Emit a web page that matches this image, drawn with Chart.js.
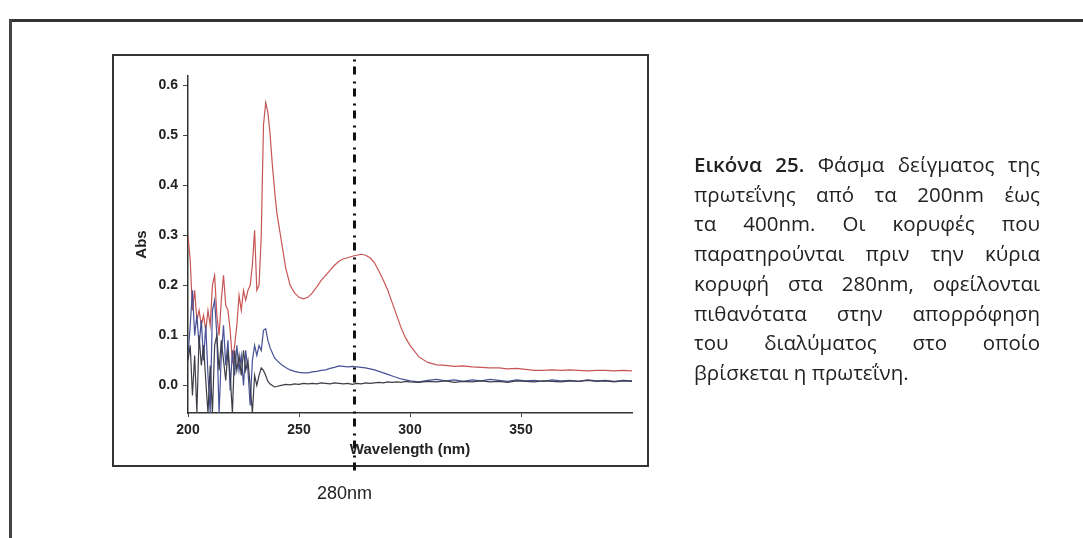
<!DOCTYPE html>
<html>
<head>
<meta charset="utf-8">
<script src="https://cdn.jsdelivr.net/npm/chart.js@4.4.1/dist/chart.umd.min.js"></script>
<style>
  html, body { margin: 0; padding: 0; background: #fff; }
  #wrap { position: relative; width: 1083px; height: 538px; overflow: hidden; }
  #spec { position: absolute; left: 0; top: 0; }
  .frameTop { position: absolute; left: 9px; top: 19px; width: 1074px; height: 3px; background: #333; }
  .frameLeft { position: absolute; left: 9px; top: 19px; width: 3px; height: 519px; background: #444; }
  .box { position: absolute; left: 112px; top: 54px; width: 533px; height: 409px; border: 2px solid #333; }
  .mark { position: absolute; left: 317px; top: 483px; font: 18px "Liberation Sans", sans-serif; color: #222; }
  .caption { position: absolute; left: 694px; top: 150px; width: 346px; font: 20.5px "Open Sans", sans-serif; color: #222; line-height: 29.7px; }
  .caption div { text-align: justify; text-align-last: justify; white-space: nowrap; }
  .caption div.last { text-align-last: left; }
  .caption b { font-weight: 600; }
</style>
</head>
<body>
<div id="wrap">
  <div class="frameTop"></div>
  <div class="frameLeft"></div>
  <div class="box"></div>
  <canvas id="spec" width="1083" height="538"></canvas>
  <div class="mark">280nm</div>
  <div class="caption">
    <div><b>Εικόνα 25.</b> Φάσμα δείγματος της</div>
    <div>πρωτεΐνης από τα 200nm έως</div>
    <div>τα 400nm. Οι κορυφές που</div>
    <div>παρατηρούνται πριν την κύρια</div>
    <div>κορυφή στα 280nm, οφείλονται</div>
    <div>πιθανότατα στην απορρόφηση</div>
    <div>του διαλύματος στο οποίο</div>
    <div class="last">βρίσκεται η πρωτεΐνη.</div>
  </div>
</div>
<script>
// wavelength grid (nm)
const wavelengths = [
  200,201,202,203,204,205,206,207,208,209,210,211,212,213,214,215,216,217,218,219,220,
  221,222,223,224,225,226,227,228,229,230,231,232,233,234,235,236,237,238,239,240,
  242,244,246,248,250,252,254,256,258,260,262,264,266,268,270,272,274,276,278,280,
  282,284,286,288,290,292,294,296,298,300,
  304,308,312,316,320,324,328,332,336,340,344,348,352,356,360,364,368,372,376,380,
  384,388,392,396,400
];

const redAbs = [
  0.30,0.25,0.15,0.19,0.13,0.15,0.12,0.14,0.11,0.15,0.12,0.20,0.22,0.14,0.10,0.17,0.22,0.16,0.15,0.11,0.05,
  0.08,0.12,0.18,0.15,0.19,0.17,0.19,0.20,0.24,0.31,0.19,0.20,0.30,0.52,0.565,0.545,0.50,0.44,0.39,0.345,
  0.29,0.235,0.20,0.185,0.176,0.173,0.176,0.185,0.197,0.21,0.22,0.23,0.24,0.248,0.253,0.255,0.258,0.26,0.262,0.26,
  0.255,0.245,0.228,0.21,0.19,0.165,0.14,0.115,0.095,0.08,
  0.057,0.046,0.041,0.040,0.038,0.039,0.037,0.036,0.035,0.035,0.033,0.034,0.032,0.030,0.030,0.031,0.030,0.031,0.030,0.029,
  0.030,0.030,0.029,0.030,0.029
];

const blueAbs = [
  0.06,0.12,0.19,0.10,0.14,0.08,0.13,0.05,0.12,0.02,-0.055,0.15,0.17,0.10,-0.055,0.06,0.12,0.04,0.09,-0.01,0.07,
  0.02,0.08,0.03,0.06,0.00,0.07,0.03,-0.04,0.05,0.08,0.06,0.08,0.07,0.11,0.113,0.09,0.075,0.065,0.055,0.05,
  0.042,0.036,0.031,0.028,0.026,0.025,0.025,0.027,0.028,0.030,0.031,0.034,0.036,0.039,0.038,0.037,0.038,0.037,0.036,0.035,
  0.033,0.031,0.028,0.025,0.022,0.019,0.016,0.013,0.011,0.009,
  0.007,0.010,0.012,0.009,0.011,0.008,0.011,0.009,0.012,0.010,0.008,0.011,0.009,0.010,0.008,0.011,0.009,0.010,0.008,0.011,
  0.009,0.010,0.008,0.010,0.009
];

const blackAbs = [
  0.05,0.08,-0.02,0.06,-0.055,0.10,0.04,0.08,0.01,-0.055,0.04,-0.055,0.08,0.10,0.03,0.09,0.05,0.01,0.07,0.02,-0.055,
  0.07,0.03,0.06,0.02,0.07,0.03,0.05,0.00,-0.055,0.02,0.00,0.02,0.035,0.03,0.02,0.008,0.003,0.0,-0.003,-0.002,
  0.000,0.002,0.001,0.003,0.002,0.004,0.003,0.004,0.003,0.005,0.004,0.003,0.005,0.004,0.003,0.004,0.002,0.004,0.003,0.005,
  0.004,0.005,0.006,0.005,0.007,0.006,0.007,0.006,0.008,0.007,
  0.006,0.008,0.007,0.009,0.006,0.008,0.007,0.009,0.007,0.008,0.006,0.009,0.008,0.007,0.009,0.008,0.007,0.009,0.008,0.010,
  0.008,0.009,0.007,0.009,0.008
];

// 280nm marker (drawn past the plot area, top to bottom of the frame)
const markerX = [275, 275];
const markerY = [-0.17, 0.656];

const yTicks = [0, 0.1, 0.2, 0.3, 0.4, 0.5, 0.6];

function pts(xs, ys) {
  return xs.map((x, i) => ({ x: x, y: ys[i] }));
}

const tickFont = { family: 'Liberation Sans', size: 14, weight: 'bold' };

let ctx = document.getElementById('spec').getContext('2d');
let specChart = new Chart(ctx, {
  type: 'line',
  data: {
    datasets: [{
      label: '280nm',
      data: pts(markerX, markerY),
      borderColor: '#111',
      borderWidth: 3,
      borderDash: [8, 5, 2, 7],
      pointRadius: 0,
      clip: false
    }, {
      label: 'black',
      data: pts(wavelengths, blackAbs),
      borderColor: 'rgb(62,62,72)',
      borderWidth: 1.2,
      pointRadius: 0
    }, {
      label: 'blue',
      data: pts(wavelengths, blueAbs),
      borderColor: 'rgb(72,82,150)',
      borderWidth: 1.2,
      pointRadius: 0
    }, {
      label: 'red',
      data: pts(wavelengths, redAbs),
      borderColor: 'rgb(200,85,85)',
      borderWidth: 1.2,
      pointRadius: 0
    }]
  },
  options: {
    responsive: false,
    animation: false,
    layout: {
      padding: { left: 112, right: 451, top: 76, bottom: 73 }
    },
    plugins: {
      legend: { display: false },
      tooltip: { enabled: false }
    },
    scales: {
      x: {
        type: 'linear',
        min: 200,
        max: 400,
        afterFit(s) { s.height = 52; },
        ticks: {
          stepSize: 50,
          padding: 5,
          color: '#222',
          font: tickFont,
          callback(v) { return v === 400 ? '' : v; }
        },
        grid: {
          display: true,
          drawOnChartArea: false,
          drawTicks: true,
          tickLength: 4,
          tickColor(c) { return c.tick && c.tick.value === 400 ? 'rgba(0,0,0,0)' : '#444'; }
        },
        border: { display: true, color: '#333', width: 1.5 },
        title: {
          display: true,
          text: 'Wavelength (nm)',
          color: '#222',
          font: { family: 'Liberation Sans', size: 15, weight: 'bold' },
          padding: { top: 0, bottom: 6 }
        }
      },
      y: {
        min: -0.055,
        max: 0.618,
        afterFit(s) { s.width = 76; },
        afterBuildTicks(s) { s.ticks = yTicks.map(v => ({ value: v })); },
        ticks: {
          padding: 5,
          color: '#222',
          font: tickFont,
          callback(v) { return v.toFixed(1); }
        },
        grid: {
          display: true,
          drawOnChartArea: false,
          drawTicks: true,
          tickLength: 5,
          tickColor: '#444'
        },
        border: { display: true, color: '#333', width: 1.5 },
        title: {
          display: true,
          text: 'Abs',
          color: '#222',
          font: { family: 'Liberation Sans', size: 15, weight: 'bold' },
          padding: { top: 21, bottom: 0 }
        }
      }
    }
  }
});
</script>
</body>
</html>
